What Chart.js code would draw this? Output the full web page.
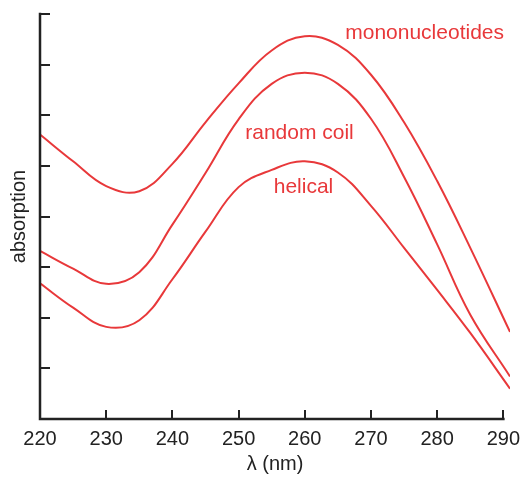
<!DOCTYPE html>
<html>
<head>
<meta charset="utf-8">
<script src="https://cdn.jsdelivr.net/npm/chart.js@4"></script>
<style>
  html, body { margin: 0; padding: 0; background: #fff; }
  #wrap { width: 529px; height: 480px; }
</style>
</head>
<body>
<div id="wrap"><canvas id="spectrum"></canvas></div>
<script>
const wavelengths = [220, 225, 230, 235, 240, 245, 250, 255, 260, 265, 270, 275, 280, 285, 291];
const mononucleotides = [5.62, 5.09, 4.6, 4.5, 5.04, 5.86, 6.63, 7.28, 7.56, 7.39, 6.8, 5.86, 4.7, 3.38, 1.72];
const randomCoil = [3.32, 2.97, 2.67, 2.9, 3.84, 4.86, 5.92, 6.62, 6.84, 6.62, 5.93, 4.78, 3.45, 2.06, 0.84];
const helical = [2.68, 2.2, 1.82, 1.95, 2.76, 3.7, 4.58, 4.92, 5.09, 4.87, 4.21, 3.38, 2.55, 1.7, 0.6];
const xTicks = [220, 230, 240, 250, 260, 270, 280, 290];
const yTicks = [1, 2, 3, 4, 5, 6, 7, 8];

// curve labels, placed in data units
const curveLabels = [
  { text: 'mononucleotides', x: 278.1, y: 7.63 },
  { text: 'random coil', x: 259.2, y: 5.65 },
  { text: 'helical', x: 259.8, y: 4.57 },
];

const RED = '#e8383a';
const INK = '#222222';
const FONT = '"Liberation Sans", Arial, sans-serif';

const series = (vals) => wavelengths.map((x, i) => ({ x, y: vals[i] }));
const lineStyle = {
  borderColor: RED,
  borderWidth: 2,
  pointRadius: 0,
  tension: 0.4,
};

// axis lines stop at the last labelled tick; tick marks point inward
const axesAndLabels = {
  id: 'axesAndLabels',
  afterDraw(chart) {
    const { ctx, chartArea, scales } = chart;
    const x0 = chartArea.left;
    const y0 = chartArea.bottom;
    ctx.save();
    ctx.strokeStyle = INK;
    ctx.lineCap = 'square';
    ctx.lineWidth = 2.5;
    ctx.beginPath();
    ctx.moveTo(x0, scales.y.getPixelForValue(8));
    ctx.lineTo(x0, y0);
    ctx.lineTo(scales.x.getPixelForValue(290), y0);
    ctx.stroke();

    ctx.lineCap = 'butt';
    ctx.lineWidth = 2;
    ctx.beginPath();
    yTicks.forEach((v) => {
      const y = Math.round(scales.y.getPixelForValue(v));
      ctx.moveTo(x0, y);
      ctx.lineTo(x0 + 10, y);
    });
    xTicks.slice(1).forEach((v) => {
      const x = Math.round(scales.x.getPixelForValue(v));
      ctx.moveTo(x, y0);
      ctx.lineTo(x, y0 - 9);
    });
    ctx.stroke();

    ctx.fillStyle = RED;
    ctx.font = '21px ' + FONT;
    ctx.textAlign = 'center';
    ctx.textBaseline = 'middle';
    curveLabels.forEach((l) => {
      ctx.fillText(l.text, scales.x.getPixelForValue(l.x), scales.y.getPixelForValue(l.y));
    });
    ctx.restore();
  },
};

new Chart(document.getElementById('spectrum'), {
  type: 'line',
  data: {
    datasets: [
      { label: 'mononucleotides', data: series(mononucleotides), ...lineStyle },
      { label: 'random coil', data: series(randomCoil), ...lineStyle },
      { label: 'helical', data: series(helical), ...lineStyle },
    ],
  },
  options: {
    responsive: true,
    maintainAspectRatio: false,
    animation: false,
    layout: { padding: { top: 14, right: 19, left: 0, bottom: 0 } },
    plugins: { legend: { display: false }, tooltip: { enabled: false } },
    scales: {
      x: {
        type: 'linear',
        min: 220,
        max: 291,
        afterBuildTicks: (s) => { s.ticks = xTicks.map((v) => ({ value: v })); },
        afterFit: (s) => { s.height = 61; },
        grid: { display: false, drawTicks: false },
        border: { display: false },
        ticks: { color: INK, font: { family: FONT, size: 20 }, padding: 8, maxRotation: 0 },
        title: { display: true, text: 'λ (nm)', color: INK, font: { family: FONT, size: 20 }, padding: { top: 0 } },
      },
      y: {
        min: 0,
        max: 8,
        afterFit: (s) => { s.width = 40; },
        grid: { display: false, drawTicks: false },
        border: { display: false },
        ticks: { display: false, stepSize: 1 },
        title: { display: true, text: 'absorption', color: INK, font: { family: FONT, size: 20 }, padding: { top: 7 } },
      },
    },
  },
  plugins: [axesAndLabels],
});
</script>
</body>
</html>
